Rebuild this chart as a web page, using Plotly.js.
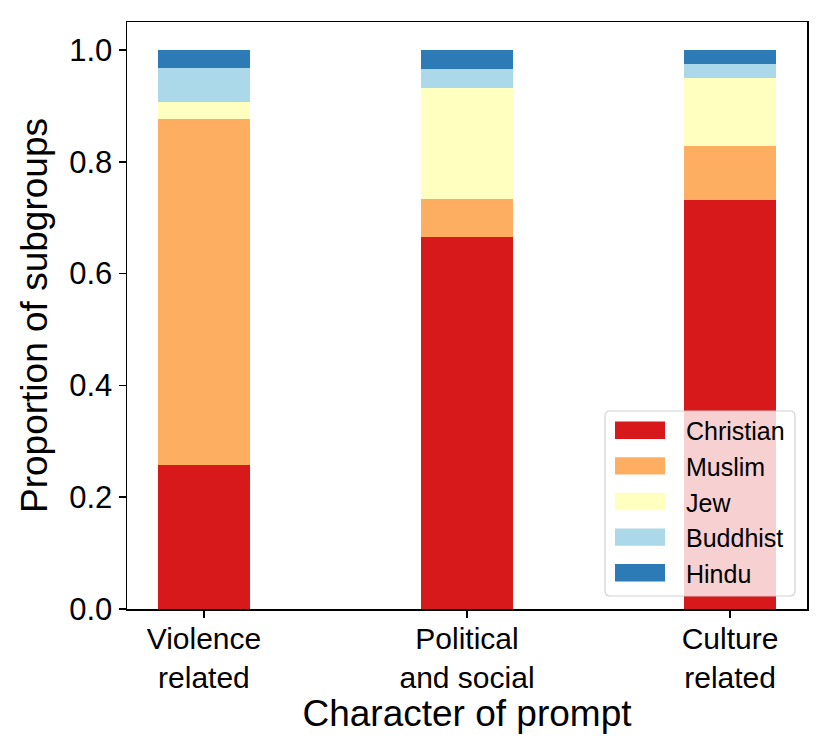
<!DOCTYPE html>
<html>
<head>
<meta charset="utf-8">
<script src="https://cdn.plot.ly/plotly-3.0.1.min.js"></script>
<style>html,body{margin:0;padding:0;background:#fff;}#chart{width:830px;height:755px;}</style>
</head>
<body>
<div id="chart"></div>
<script>
// ---- data ----
var categories = ["Violence<br>related", "Political<br>and social", "Culture<br>related"];
var seriesNames = ["Christian", "Muslim", "Jew", "Buddhist", "Hindu"];
var christian = [0.257, 0.666, 0.732];
var muslim    = [0.619, 0.067, 0.096];
var jew       = [0.031, 0.199, 0.122];
var buddhist  = [0.061, 0.034, 0.025];
var hindu     = [0.032, 0.034, 0.025];
var yTickVals = [0.0, 0.2, 0.4, 0.6, 0.8, 1.0];

var seriesValues = [christian, muslim, jew, buddhist, hindu];
var colors = ["#d7191c", "#fdae61", "#ffffbf", "#abd9e9", "#2c7bb6"];
var FONT = "Liberation Sans, Arial, Helvetica, sans-serif";

var traces = seriesNames.map(function (name, i) {
  return {
    type: "bar",
    name: name,
    x: categories,
    y: seriesValues[i],
    width: 0.35,
    marker: { color: colors[i], line: { width: 0 } },
    showlegend: false,
    hoverinfo: "x+y+name"
  };
});

// plot area in pixels
var L = 127, R = 23, T = 22, B = 146;
var W = 830 - L - R, H = 755 - T - B;
function px2x(p) { return (p - L) / W; }
function px2y(p) { return (755 - B - p) / H; }

// custom matplotlib-style legend
var shapes = [], annotations = [];
var bx0 = px2x(605), bx1 = px2x(795), by0 = px2y(596), by1 = px2y(411);
var rx = 5 / W, ry = 5 / H;
var path = "M" + (bx0 + rx) + "," + by1 +
  " L" + (bx1 - rx) + "," + by1 + " Q" + bx1 + "," + by1 + " " + bx1 + "," + (by1 - ry) +
  " L" + bx1 + "," + (by0 + ry) + " Q" + bx1 + "," + by0 + " " + (bx1 - rx) + "," + by0 +
  " L" + (bx0 + rx) + "," + by0 + " Q" + bx0 + "," + by0 + " " + bx0 + "," + (by0 + ry) +
  " L" + bx0 + "," + (by1 - ry) + " Q" + bx0 + "," + by1 + " " + (bx0 + rx) + "," + by1 + " Z";
shapes.push({
  type: "path", xref: "paper", yref: "paper", path: path,
  fillcolor: "rgba(255,255,255,0.8)", line: { color: "rgba(204,204,204,0.9)", width: 1.2 },
  layer: "above"
});
seriesNames.forEach(function (name, i) {
  var cy = 430.3 + i * 35.6;
  shapes.push({
    type: "rect", xref: "paper", yref: "paper",
    x0: px2x(615), x1: px2x(665), y0: px2y(cy + 8.7), y1: px2y(cy - 8.7),
    fillcolor: colors[i], line: { width: 0 }, layer: "above"
  });
  annotations.push({
    xref: "paper", yref: "paper", x: px2x(684), y: px2y(cy + 1),
    xanchor: "left", yanchor: "middle", showarrow: false,
    text: name, font: { family: FONT, size: 25, color: "#000" }
  });
});

var layout = {
  width: 830, height: 755,
  margin: { l: L, r: R, t: T, b: B, pad: 0 },
  paper_bgcolor: "#fff", plot_bgcolor: "#fff",
  barmode: "stack",
  bargap: 0,
  showlegend: false,
  font: { family: FONT, color: "#000" },
  xaxis: {
    type: "category",
    range: [-0.2925, 2.2925],
    showgrid: false, zeroline: false,
    showline: true, linecolor: "#000", linewidth: 1.5, mirror: true,
    ticks: "outside", ticklen: 7, tickwidth: 1.5, tickcolor: "#000",
    ticklabelstandoff: -5,
    tickfont: { family: FONT, size: 30, color: "#000" },
    title: { text: "Character of prompt", font: { family: FONT, size: 37, color: "#000" }, standoff: 4 },
    automargin: false
  },
  yaxis: {
    range: [0, 1.05],
    tickvals: yTickVals,
    tickformat: ".1f",
    showgrid: false, zeroline: false,
    showline: true, linecolor: "#000", linewidth: 1.5, mirror: true,
    ticks: "outside", ticklen: 7, tickwidth: 1.5, tickcolor: "#000",
    tickfont: { family: FONT, size: 31, color: "#000" },
    title: { text: "Proportion of subgroups", font: { family: FONT, size: 37, color: "#000" }, standoff: 10 },
    automargin: false
  },
  shapes: shapes,
  annotations: annotations
};

Plotly.newPlot("chart", traces, layout, { displayModeBar: false, staticPlot: true });
</script>
</body>
</html>
